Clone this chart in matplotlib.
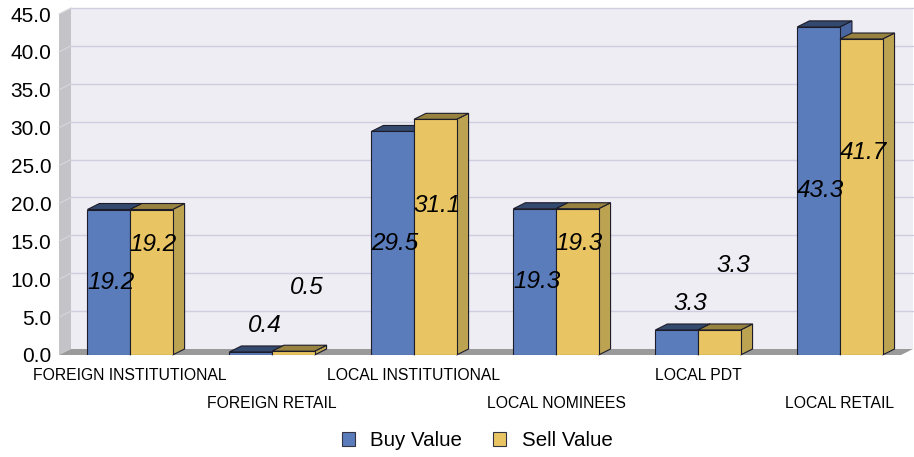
import matplotlib
matplotlib.use("Agg")
import matplotlib.pyplot as plt
from matplotlib.patches import Polygon, Patch

plt.rcParams['font.family'] = ['Liberation Sans', 'DejaVu Sans']

categories = ["FOREIGN INSTITUTIONAL", "FOREIGN RETAIL", "LOCAL INSTITUTIONAL",
              "LOCAL NOMINEES", "LOCAL PDT", "LOCAL RETAIL"]
buy_values = [19.2, 0.4, 29.5, 19.3, 3.3, 43.3]
sell_values = [19.2, 0.5, 31.1, 19.3, 3.3, 41.7]
y_ticks = [0, 5, 10, 15, 20, 25, 30, 35, 40, 45]
series_names = ["Buy Value", "Sell Value"]

W, H = 914, 457
fig = plt.figure(figsize=(W / 100, H / 100), dpi=100)
L, R, B, T = 59, 901, 355, 14
ax = fig.add_axes([L / W, 1 - B / H, (R - L) / W, (B - T) / H])
ax.set_facecolor('none')
fig.patch.set_facecolor('white')

xl, xr = -0.5, 5.43
ymax = 45
ax.set_xlim(xl, xr)
ax.set_ylim(0, ymax)

# 3D depth offsets (pixels -> data)
px_x = (R - L) / (xr - xl)
px_y = (B - T) / ymax
dx = 12 / px_x
dy = 6 / px_y

# back wall
ax.add_patch(Polygon([(xl + dx, dy), (xr + dx, dy), (xr + dx, ymax + dy), (xl + dx, ymax + dy)],
                     closed=True, facecolor='#eeedf3', edgecolor='none', clip_on=False, zorder=0))
# left wall
ax.add_patch(Polygon([(xl, 0), (xl + dx, dy), (xl + dx, ymax + dy), (xl, ymax)],
                     closed=True, facecolor='#c3c3c8', edgecolor='none', clip_on=False, zorder=0.5))
# grid lines
for v in y_ticks[1:]:
    ax.plot([xl + dx, xr + dx], [v + dy, v + dy], color='#cfcde0', lw=1.0, clip_on=False, zorder=0.3)
    ax.plot([xl, xl + dx], [v, v + dy], color='#d6d6de', lw=0.8, clip_on=False, zorder=0.6)
# floor
ax.add_patch(Polygon([(xl, 0), (xr, 0), (xr + dx, dy), (xl + dx, dy)],
                     closed=True, facecolor='#9a9a9a', edgecolor='none', clip_on=False, zorder=0.7))

for s in ax.spines.values():
    s.set_visible(False)

bw = 0.3
x = list(range(len(categories)))
styles = [
    dict(front='#5b7cba', top='#34496e', side='#4a66a0'),
    dict(front='#e8c562', top='#97823f', side='#bca352'),
]
edge = '#1c1c2a'

for si, vals in enumerate([buy_values, sell_values]):
    st = styles[si]
    offs = -bw / 2 if si == 0 else bw / 2
    bars = ax.bar([xi + offs for xi in x], vals, width=bw, color=st['front'],
                  edgecolor=edge, linewidth=0.8, zorder=2 + si * 2 + 1)
    for rect in bars:
        x0 = rect.get_x()
        x1 = x0 + rect.get_width()
        h = rect.get_height()
        ax.add_patch(Polygon([(x1, 0), (x1 + dx, dy), (x1 + dx, h + dy), (x1, h)], closed=True,
                             facecolor=st['side'], edgecolor=edge, lw=0.8, zorder=2 + si * 2, clip_on=False))
        ax.add_patch(Polygon([(x0, h), (x1, h), (x1 + dx, h + dy), (x0 + dx, h + dy)], closed=True,
                             facecolor=st['top'], edgecolor=edge, lw=0.8, zorder=2 + si * 2, clip_on=False))

# value labels
for i in x:
    bv, sv = buy_values[i], sell_values[i]
    if bv >= 5:
        anchor, off, xo = bv / 2, 0, 2
    else:
        anchor, off, xo = bv, 26, 14
    ax.annotate(f"{bv:.1f}", (i - bw / 2, anchor), xytext=(xo * 0.72, off * 0.72),
                textcoords='offset points', ha='center', va='center',
                fontsize=17.5, style='italic', color='#000000', zorder=10)
    ax.annotate(f"{sv:.1f}", (i + bw / 2, anchor), xytext=(xo * 0.72, (off + 38) * 0.72),
                textcoords='offset points', ha='center', va='center',
                fontsize=17.5, style='italic', color='#000000', zorder=10)

# y ticks
ax.set_yticks(y_ticks)
ax.set_yticklabels([f"{v:.1f}" for v in y_ticks], fontsize=15)
ax.tick_params(axis='y', length=0, pad=5.5, labelcolor='#000000')
ax.set_xticks([])

# category labels (staggered)
for i, c in enumerate(categories):
    off = -21 if i % 2 == 0 else -48
    ax.annotate(c, (i, 0), xycoords=('data', 'data'), xytext=(0, off * 0.72),
                textcoords='offset points', ha='center', va='center', fontsize=11.3,
                color='#000000', annotation_clip=False)

handles = [Patch(facecolor=styles[0]['front'], edgecolor='#333344', lw=0.8),
           Patch(facecolor=styles[1]['front'], edgecolor='#333344', lw=0.8)]
fig.legend(handles, series_names, loc='center', bbox_to_anchor=(0.522, 1 - 441 / H),
           ncol=2, frameon=False, fontsize=14.8, handlelength=0.65, handleheight=0.65,
           handletextpad=0.75, columnspacing=1.5, prop=None)

fig.savefig("out.png", dpi=100)
